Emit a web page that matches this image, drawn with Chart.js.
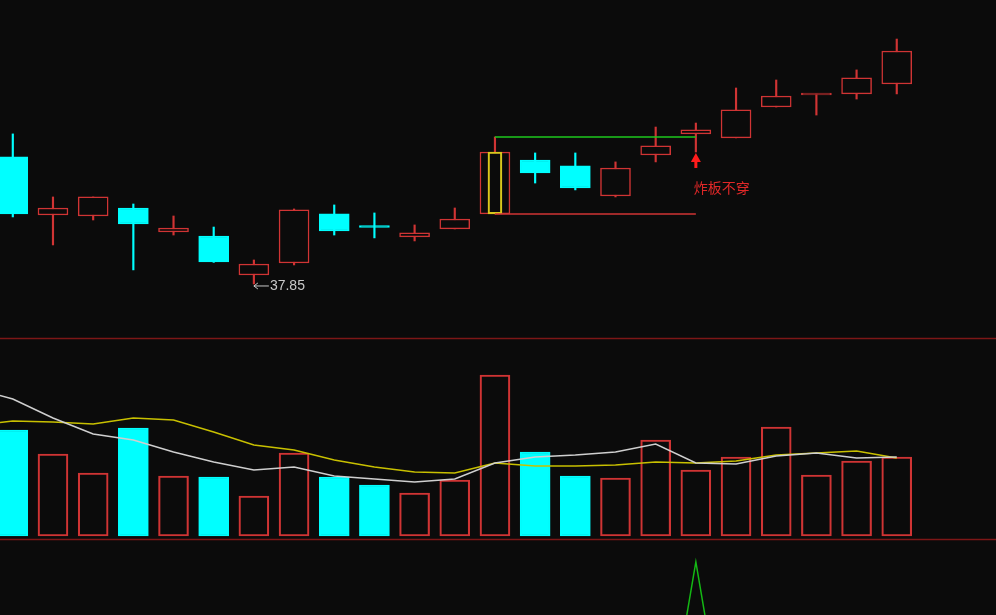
<!DOCTYPE html>
<html>
<head>
<meta charset="utf-8">
<script src="https://cdn.jsdelivr.net/npm/chart.js@4.4.1/dist/chart.umd.min.js"></script>
<style>
  html, body { margin: 0; padding: 0; background: #0b0b0b; }
  canvas { display: block; }
</style>
</head>
<body>
<canvas id="kline" width="996" height="615"></canvas>
<script>
/* ============================
   K-line + volume
============================ */

// day index of each candle
const days  = [0, 1, 2, 3, 4, 5, 6, 7, 8, 9, 10, 11, 12, 13, 14, 15, 16, 17, 18, 19, 20, 21, 22];
const open  = [45.79, 42.16, 42.10, 42.60, 41.10, 40.85, 38.41, 39.16, 42.23, 41.41, 40.79, 41.29, 42.23, 45.60, 45.23, 43.35, 45.91, 47.23, 46.98, 48.91, 49.66, 49.73, 50.35];
const close = [42.23, 42.60, 43.29, 41.60, 41.35, 39.23, 39.10, 42.48, 41.16, 41.38, 41.04, 41.91, 46.10, 44.79, 43.85, 45.10, 46.48, 47.48, 48.73, 49.60, 49.73, 50.73, 52.41];
const high  = [47.23, 43.29, 43.29, 42.85, 42.10, 41.41, 39.35, 42.54, 42.79, 42.29, 41.54, 42.60, 47.04, 46.04, 46.04, 45.48, 47.66, 47.91, 50.10, 50.60, 49.73, 51.23, 53.16];
const low   = [42.04, 40.29, 41.85, 38.73, 40.91, 39.20, 37.85, 39.04, 40.91, 40.73, 40.54, 41.29, 42.23, 44.16, 43.73, 43.29, 45.48, 46.10, 46.98, 48.91, 48.41, 49.41, 49.73];

// volume (万手)
const volume = [10.6, 8.2, 6.3, 10.8, 6.0, 5.9, 4.0, 8.3, 5.9, 5.1, 4.3, 5.6, 16.1, 8.4, 6.0, 5.8, 9.6, 6.6, 7.9, 10.9, 6.1, 7.5, 7.9];

// volume MAs, starting one day before the first candle
const maDays = [-1, 0, 1, 2, 3, 4, 5, 6, 7, 8, 9, 10, 11, 12, 13, 14, 15, 16, 17, 18, 19, 20, 21, 22];
const volMa5  = [14.8, 13.7, 11.8, 10.2, 9.6, 8.4, 7.4, 6.6, 6.9, 6.0, 5.7, 5.4, 5.7, 7.3, 7.9, 8.1, 8.4, 9.2, 7.3, 7.2, 8.0, 8.3, 7.8, 7.9];
const volMa10 = [11.0, 11.5, 11.4, 11.2, 11.8, 11.6, 10.4, 9.1, 8.6, 7.6, 6.9, 6.4, 6.3, 7.3, 7.0, 7.0, 7.1, 7.4, 7.3, 7.5, 8.1, 8.3, 8.5, 7.8];

// signal line of the bottom panel
const signal = [0, 0, 0, 0, 0, 0, 0, 0, 0, 0, 0, 0, 0, 0, 0, 0, 0, 100, 0, 0, 0, 0, 0];

// limit-up day and the day that tested it
const boardDay = 12;
const testDay = 17;
const noteText = '炸板不穿';

/* ---------- colours ---------- */
const BG = '#0b0b0b';
const RED = '#d03434';
const CYAN = '#00ffff';
const isUp = i => close[i] >= open[i];
const candleColor = i => isUp(i) ? RED : CYAN;

/* ---------- datasets ---------- */
const wicks = {
  type: 'bar', yAxisID: 'price', order: 5, grouped: false,
  data: days.map(i => ({ x: i, y: [low[i], high[i]] })),
  backgroundColor: days.map(candleColor),
  borderWidth: 0, barThickness: 1.5
};

const bodies = {
  type: 'bar', yAxisID: 'price', order: 4, grouped: false,
  data: days.map(i => ({ x: i, y: [open[i], close[i]] })),
  backgroundColor: days.map(i => isUp(i) ? BG : CYAN),
  borderColor: days.map(candleColor),
  borderWidth: 1.5, borderSkipped: false, barThickness: 30, minBarLength: 2
};

const boardBox = {
  type: 'bar', yAxisID: 'price', order: 3, grouped: false,
  data: [{ x: boardDay, y: [open[boardDay], close[boardDay]] }],
  backgroundColor: 'rgba(0,0,0,0)', borderColor: '#d8c81c',
  borderWidth: 1.5, borderSkipped: false, barThickness: 14
};

const topLine = {
  type: 'line', yAxisID: 'price', order: 2,
  data: [{ x: boardDay, y: high[boardDay] }, { x: testDay, y: high[boardDay] }],
  borderColor: '#1ec81e', borderWidth: 1.5, pointRadius: 0
};

const baseLine = {
  type: 'line', yAxisID: 'price', order: 2,
  data: [{ x: boardDay, y: open[boardDay] }, { x: testDay, y: open[boardDay] }],
  borderColor: RED, borderWidth: 1.5, pointRadius: 0
};

const volBars = {
  type: 'bar', yAxisID: 'vol', order: 6, grouped: false,
  data: days.map(i => ({ x: i, y: volume[i] })),
  backgroundColor: days.map(i => isUp(i) ? 'rgba(0,0,0,0)' : CYAN),
  borderColor: days.map(candleColor),
  borderWidth: 1.5, borderSkipped: false, barThickness: 30
};

const ma5Line = {
  type: 'line', yAxisID: 'vol', order: 1,
  data: maDays.map((d, k) => ({ x: d, y: volMa5[k] })),
  borderColor: '#cfcfcf', borderWidth: 1.5, pointRadius: 0
};

const ma10Line = {
  type: 'line', yAxisID: 'vol', order: 1,
  data: maDays.map((d, k) => ({ x: d, y: volMa10[k] })),
  borderColor: '#c8c000', borderWidth: 1.5, pointRadius: 0
};

const signalLine = {
  type: 'line', yAxisID: 'ind', order: 1,
  data: days.map(i => ({ x: i, y: signal[i] })),
  borderColor: '#14b814', borderWidth: 1.5, pointRadius: 0
};

/* ---------- panel borders, arrow and notes ---------- */
const overlay = {
  id: 'overlay',
  beforeDraw(chart) {
    const c = chart.ctx;
    c.save();
    c.fillStyle = BG;
    c.fillRect(0, 0, chart.width, chart.height);
    c.restore();
  },
  beforeDatasetsDraw(chart) {
    const c = chart.ctx, vs = chart.scales.vol;
    c.save();
    c.strokeStyle = '#7d1717';
    c.lineWidth = 1.5;
    [19.8, -0.3].forEach(v => {
      const y = Math.round(vs.getPixelForValue(v)) + 0.5;
      c.beginPath(); c.moveTo(0, y); c.lineTo(chart.width, y); c.stroke();
    });
    c.restore();
  },
  afterDatasetsDraw(chart) {
    const c = chart.ctx, xs = chart.scales.x, ps = chart.scales.price;
    c.save();

    // red arrow under the test day
    const ax = xs.getPixelForValue(testDay);
    const ay = ps.getPixelForValue(low[testDay]);
    c.fillStyle = '#ff1c1c';
    c.beginPath();
    c.moveTo(ax, ay + 1);
    c.lineTo(ax - 5, ay + 10);
    c.lineTo(ax + 5, ay + 10);
    c.closePath();
    c.fill();
    c.fillRect(ax - 1.5, ay + 9, 3, 7);

    c.fillStyle = '#e02828';
    c.font = '14px "Noto Sans CJK SC", sans-serif';
    c.textAlign = 'left';
    c.textBaseline = 'middle';
    c.fillText(noteText, ax - 2, ay + 36);

    // lowest price label
    let li = 0;
    low.forEach((v, i) => { if (v < low[li]) li = i; });
    const lx = xs.getPixelForValue(li);
    const ly = ps.getPixelForValue(low[li]) + 2;
    c.strokeStyle = '#c8c8c8';
    c.lineWidth = 1;
    c.beginPath();
    c.moveTo(lx, ly); c.lineTo(lx + 15, ly);
    c.moveTo(lx, ly); c.lineTo(lx + 4, ly - 3);
    c.moveTo(lx, ly); c.lineTo(lx + 4, ly + 3);
    c.stroke();
    c.fillStyle = '#c8c8c8';
    c.font = '14px "Liberation Sans", Arial, sans-serif';
    c.fillText(low[li].toFixed(2), lx + 16, ly);

    c.restore();
  }
};

/* ---------- chart ---------- */
new Chart(document.getElementById('kline'), {
  data: {
    datasets: [wicks, bodies, boardBox, topLine, baseLine, volBars, ma5Line, ma10Line, signalLine]
  },
  options: {
    responsive: false,
    animation: false,
    devicePixelRatio: 1,
    layout: { padding: 0 },
    plugins: { legend: { display: false }, tooltip: { enabled: false } },
    scales: {
      x:     { type: 'linear', display: false, offset: false, min: -0.3186, max: 24.47 },
      price: { type: 'linear', display: false, min: 17.16, max: 55.6 },
      vol:   { type: 'linear', display: false, min: -7.9, max: 53.6 },
      ind:   { type: 'linear', display: false, min: 77.5, max: 338.1 }
    }
  },
  plugins: [overlay]
});
</script>
</body>
</html>
